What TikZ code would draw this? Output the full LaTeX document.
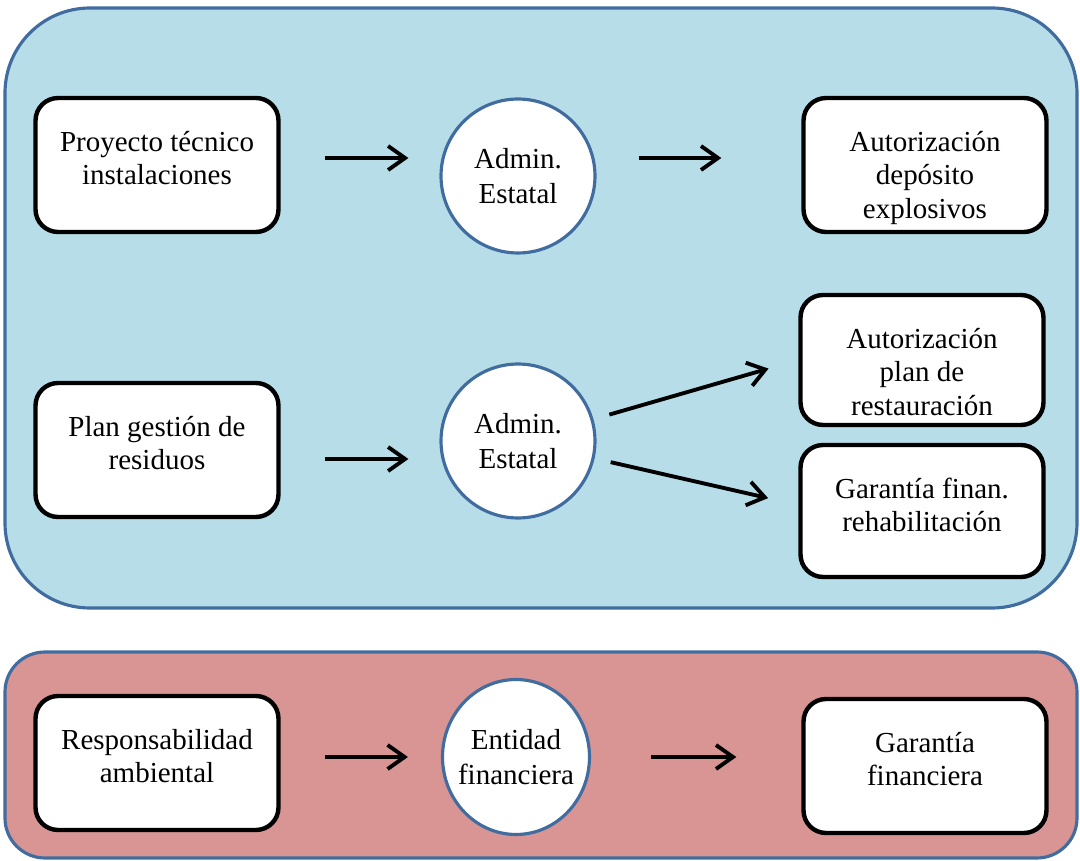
\documentclass[tikz,border=0pt]{standalone}
\usepackage{fontspec}
\setmainfont{Liberation Serif}
\usetikzlibrary{shapes.geometric,arrows.meta}

\definecolor{fondoazul}{RGB}{183,222,232}
\definecolor{fondorojo}{RGB}{217,149,148}
\definecolor{bordeazul}{RGB}{65,108,160}

\begin{document}
\begin{tikzpicture}[x=0.02cm, y=-0.02cm,
  caja/.style={draw, line width=2.5pt, rounded corners=0.45cm, fill=white,
    minimum width=4.86cm, minimum height=2.68cm},
  texto/.style={align=center, inner sep=0pt, anchor=north, yshift=-0.7cm,
    font=\fontsize{16.5}{19}\selectfont},
  admin/.style={circle, draw=bordeazul, line width=1.8pt, fill=white,
    minimum size=3.08cm, inner sep=0pt, align=center,
    font=\fontsize{16.5}{19.5}\selectfont},
  flecha/.style={-{Straight Barb[length=3.4mm, width=4.8mm]}, line width=2.2pt}]
\useasboundingbox (0,0) rectangle (1080,861);

% fondos
\draw[bordeazul, line width=1.8pt, fill=fondoazul, rounded corners=1.7cm] (5,8) rectangle (1077,608);
\draw[bordeazul, line width=1.8pt, fill=fondorojo, rounded corners=0.8cm] (5,652) rectangle (1077,858);

% fila 1
\node[caja, label={[texto]north:Proyecto técnico\\instalaciones}] (proyecto) at (157,165) {};
\node[admin] (admin1) at (518,176) {Admin.\\Estatal};
\node[caja, label={[texto]north:Autorización\\depósito\\explosivos}] (deposito) at (925,165) {};
\draw[flecha, shorten <=0.88cm, shorten >=0.62cm] ([yshift=0.14cm]proyecto.east) -- ([yshift=0.14cm]proyecto.east -| admin1.west);
\draw[flecha, shorten <=0.84cm, shorten >=1.6cm] ([yshift=0.14cm]admin1.east |- proyecto) -- ([yshift=0.14cm]deposito.west);

% fila 2
\node[caja, label={[texto]north:Plan gestión de\\residuos}] (residuos) at (157,450) {};
\node[admin] (admin2) at (518,441) {Admin.\\Estatal};
\node[caja, minimum height=2.6cm, label={[texto]north:Autorización\\plan de\\restauración}] (restauracion) at (922,360) {};
\node[caja, minimum height=2.64cm, label={[texto]north:Garantía finan.\\rehabilitación}] (rehab) at (922,511) {};
\draw[flecha, shorten <=0.88cm, shorten >=0.62cm] ([yshift=-0.18cm]residuos.east) -- ([yshift=-0.18cm]residuos.east -| admin2.west);
\draw[flecha, shorten <=0.33cm, shorten >=0.62cm] (admin2) -- (restauracion.west);
\draw[flecha, shorten <=0.33cm, shorten >=0.62cm] (admin2) -- ([yshift=0.12cm]rehab.west);

% fila 3
\node[caja, label={[texto]north:Responsabilidad\\ambiental}] (ambiental) at (157,763) {};
\node[ellipse, draw=bordeazul, line width=1.8pt, fill=white,
  minimum width=2.94cm, minimum height=3.1cm, inner sep=0pt,
  label={[align=center, font=\fontsize{16.5}{19.5}\selectfont]center:Entidad\\financiera}] (entidad) at (516,757) {};
\node[caja, label={[texto]north:Garantía\\financiera}] (financiera) at (925,766) {};
\draw[flecha, shorten <=0.88cm, shorten >=0.66cm] ([yshift=0.12cm]ambiental.east) -- ([yshift=0.12cm]ambiental.east -| entidad.west);
\draw[flecha, shorten <=1.2cm, shorten >=1.3cm] (entidad) -- (entidad -| financiera.west);
\end{tikzpicture}
\end{document}
